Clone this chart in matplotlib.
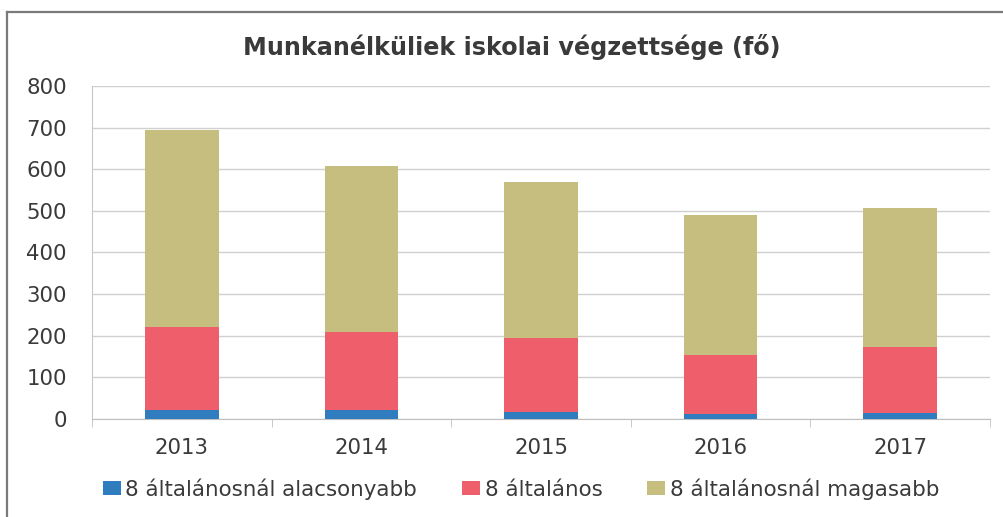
import matplotlib
matplotlib.use("Agg")
import matplotlib.pyplot as plt
from matplotlib.lines import Line2D
import numpy as np

plt.rcParams['font.family'] = ['DejaVu Sans']

years = ["2013", "2014", "2015", "2016", "2017"]
below8 = [22, 22, 16, 11, 14]
elem8 = [198, 188, 178, 143, 158]
above8 = [474, 397, 375, 335, 334]
series_names = ["8 általánosnál alacsonyabb", "8 általános", "8 általánosnál magasabb"]
colors = ["#2F7DBE", "#EE5E6B", "#C6BE7E"]
title = "Munkanélküliek iskolai végzettsége (fő)"

W, H = 1004, 517
fig = plt.figure(figsize=(W / 100, H / 100), dpi=100)
fig.patch.set_facecolor("white")
# outer chart border (left and top edges visible)
fig.add_artist(Line2D([7 / W, 7 / W], [0, 1 - 12 / H], transform=fig.transFigure,
                      color="#7a7a7a", linewidth=1.6))
fig.add_artist(Line2D([7 / W, 1], [1 - 12 / H, 1 - 12 / H], transform=fig.transFigure,
                      color="#7a7a7a", linewidth=1.6))

ax = fig.add_axes([92 / W, 1 - 419 / H, (990 - 92) / W, (419 - 86) / H])
x = np.arange(len(years))
w = 0.41
b1 = np.array(below8)
b2 = b1 + np.array(elem8)
ax.bar(x, below8, w, color=colors[0], label=series_names[0], zorder=3)
ax.bar(x, elem8, w, bottom=b1, color=colors[1], label=series_names[1], zorder=3)
ax.bar(x, above8, w, bottom=b2, color=colors[2], label=series_names[2], zorder=3)

ax.set_xlim(-0.5, len(years) - 0.5)
ax.set_ylim(0, 800)
ax.set_yticks(range(0, 801, 100))
ax.yaxis.grid(True, color="#d0d0d0", linewidth=1)
ax.set_axisbelow(True)
for s in ["top", "right"]:
    ax.spines[s].set_visible(False)
ax.spines["left"].set_color("#c8c8c8")
ax.spines["bottom"].set_color("#c0c0c0")
ax.set_xticks(x)
ax.set_xticklabels(years)
ax.set_xticks(np.arange(-0.5, len(years), 1), minor=True)
ax.tick_params(axis="x", which="major", length=0, pad=14, labelsize=15.3, labelcolor="#3a3a3a")
ax.tick_params(axis="x", which="minor", length=6, color="#c0c0c0")
ax.tick_params(axis="y", length=0, pad=18, labelsize=15.3, labelcolor="#3a3a3a")

fig.text(512 / W, 1 - 47 / H, title, ha="center", va="center", fontsize=17.2,
         fontweight="bold", color="#3a3a3a")

leg = fig.legend(loc="center", bbox_to_anchor=(521 / W, 1 - 489 / H), ncol=3, frameon=False,
                 fontsize=15.4, handlelength=0.85, handleheight=0.6, handletextpad=0.2,
                 columnspacing=2.1, labelcolor="#3a3a3a")

fig.savefig("out.png", dpi=100, facecolor="white")
